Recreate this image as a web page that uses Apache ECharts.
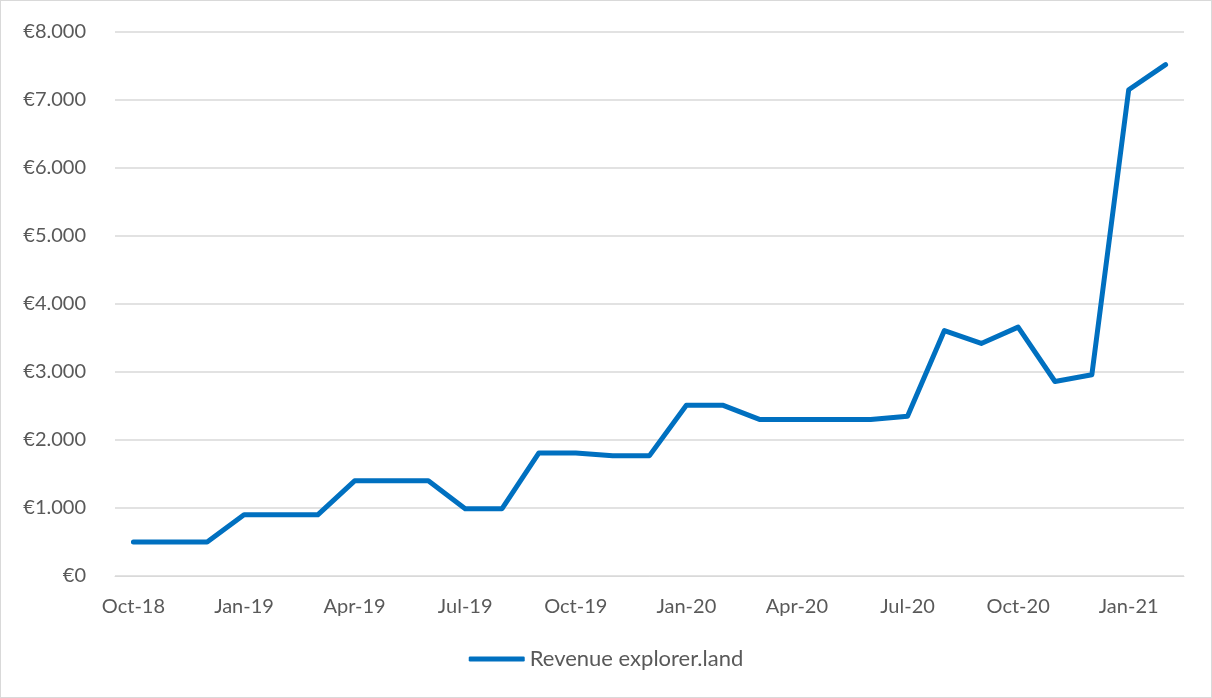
<!DOCTYPE html>
<html lang="en">
<head>
    <meta charset="UTF-8">
    <title>Revenue explorer.land</title>
    <script src="https://cdn.jsdelivr.net/npm/echarts@6/dist/echarts.min.js"></script>
    <style>
        html, body { margin: 0; padding: 0; background: #fff; }
        #main { width: 1210px; height: 696px; border: 1px solid #d9d9d9; }
    </style>
</head>
<body>
<div id="main"></div>
<script type="text/javascript">
    // months Oct-18 .. Feb-21
    var months = ['Oct-18','Nov-18','Dec-18','Jan-19','Feb-19','Mar-19','Apr-19','May-19','Jun-19',
        'Jul-19','Aug-19','Sep-19','Oct-19','Nov-19','Dec-19','Jan-20','Feb-20','Mar-20','Apr-20',
        'May-20','Jun-20','Jul-20','Aug-20','Sep-20','Oct-20','Nov-20','Dec-20','Jan-21','Feb-21'];
    var revenue = [500, 500, 500, 900, 900, 900, 1400, 1400, 1400,
        990, 990, 1810, 1810, 1770, 1770, 2510, 2510, 2300, 2300,
        2300, 2300, 2350, 3610, 3420, 3660, 2860, 2960, 7150, 7520];
    var seriesName = 'Revenue explorer.land';

    var textColor = '#595959';
    var fontFamily = 'Lato, "Open Sans", sans-serif';

    var myChart = echarts.init(document.getElementById('main'));
    var option = {
        animation: false,
        textStyle: { fontFamily: fontFamily },
        legend: {
            bottom: 22,
            left: 'center',
            itemWidth: 56,
            itemHeight: 5,
            itemGap: 4,
            icon: 'roundRect',
            textStyle: { color: textColor, fontSize: 22, fontFamily: fontFamily },
            data: [seriesName]
        },
        grid: {
            left: 114,
            right: 27,
            top: 31,
            bottom: 121
        },
        xAxis: {
            type: 'category',
            boundaryGap: true,
            data: months,
            axisLine: { show: true, lineStyle: { color: '#d9d9d9', width: 1 } },
            axisTick: { show: false },
            axisLabel: {
                interval: 2,
                color: textColor,
                fontSize: 20,
                margin: 21,
                fontFamily: fontFamily
            }
        },
        yAxis: {
            type: 'value',
            min: 0,
            max: 8000,
            interval: 1000,
            axisLine: { show: false },
            axisTick: { show: false },
            splitLine: { lineStyle: { color: '#d9d9d9', width: 1.5 } },
            axisLabel: {
                color: textColor,
                fontSize: 20,
                margin: 29,
                fontFamily: fontFamily,
                formatter: function (v) {
                    return '€' + (v === 0 ? '0' : (v / 1000) + '.000');
                }
            }
        },
        series: [
            {
                name: seriesName,
                type: 'line',
                data: revenue,
                symbol: 'none',
                lineStyle: { color: '#0070c0', width: 5, cap: 'round', join: 'round' },
                itemStyle: { color: '#0070c0' }
            }
        ]
    };
    myChart.setOption(option);
</script>
</body>
</html>
